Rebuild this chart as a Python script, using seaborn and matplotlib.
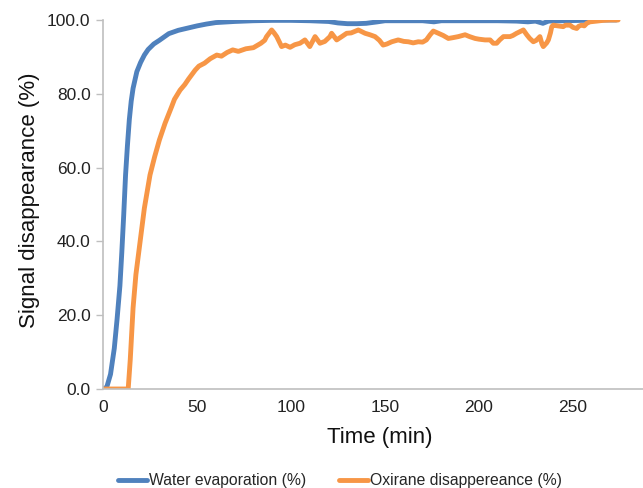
import matplotlib
matplotlib.use("Agg")
import matplotlib.pyplot as plt
import seaborn as sns
import pandas as pd

# ---- data ----
water_t = [0, 2, 4, 6, 7.5, 9, 10, 11, 12, 13, 14, 15, 16, 18, 20, 22, 24, 27, 30,
           35, 40, 45, 50, 55, 60, 70, 80, 90, 100, 110, 120, 125, 130, 135, 140,
           146, 150, 160, 170, 176, 180, 190, 200, 210, 220, 226, 230, 234, 237,
           245, 255, 265, 273]
water_y = [0, 0.5, 4, 11, 19, 28, 37, 47, 58, 66, 73, 78, 81.5, 86, 88.5, 90.5, 92,
           93.5, 94.5, 96.3, 97.2, 97.8, 98.4, 98.9, 99.3, 99.6, 99.8, 99.9, 99.9,
           99.8, 99.6, 99.2, 99.0, 99.0, 99.1, 99.5, 99.8, 99.8, 99.8, 99.5, 99.8,
           99.8, 99.8, 99.8, 99.7, 99.5, 99.7, 99.1, 99.7, 99.8, 99.9, 100, 100]

oxirane_t = [0, 13.4, 14.5, 16, 17.5, 19, 20, 22, 25, 27.5, 30, 33, 36.5, 38, 41,
             43.5, 45.5, 49, 51, 54, 57, 60.5, 63, 66, 69, 72, 76, 80, 84, 86, 87,
             89.7, 91, 92.4, 95, 97, 99.5, 102, 104.8, 107.4, 110, 112.8, 115.4,
             118, 120.7, 121.6, 124.3, 127, 129.6, 132, 135.8, 139.4, 142, 144.7,
             147, 149, 151, 153.6, 157, 160, 162.4, 165, 167.7, 170, 172, 174,
             175.7, 178.4, 181, 183.7, 186, 189, 192.6, 195, 197.9, 200, 203.2,
             205.9, 207.6, 209.4, 211, 213, 216.5, 218, 220, 223.6, 225.4, 227,
             228.9, 230.5, 232.4, 233.5, 234.2, 236, 236.9, 238, 238.7, 239.5, 242,
             244.8, 246, 248.4, 250, 252, 253, 254.6, 256, 257.3, 259, 262.6, 266,
             270, 274]
oxirane_y = [0, 0, 8, 22, 31, 37, 41, 49, 58, 63, 67.5, 72, 76.5, 78.5, 81, 82.5,
             84, 86.4, 87.5, 88.3, 89.5, 90.5, 90.2, 91.2, 91.9, 91.5, 92.2, 92.5,
             93.7, 94.5, 95.5, 97.3, 96.5, 95.5, 92.8, 93.2, 92.6, 93.3, 93.7, 94.6,
             92.8, 95.5, 93.7, 94.2, 95.5, 96.4, 94.6, 95.5, 96.4, 96.5, 97.3, 96.4,
             96.0, 95.5, 94.5, 93.2, 93.5, 94.1, 94.6, 94.2, 94.1, 93.8, 94.1, 94.0,
             94.6, 96, 97, 96.4, 95.8, 95, 95.2, 95.5, 96, 95.5, 95, 94.8, 94.6,
             94.6, 93.7, 93.7, 94.6, 95.5, 95.5, 95.8, 96.4, 97.3, 96, 95, 94.1,
             94.5, 95.5, 93.5, 92.8, 93.8, 94.6, 96.5, 98.2, 98.6, 98.4, 98.2, 98.6,
             98.6, 98, 97.7, 98.3, 98.6, 98.4, 99.1, 99.5, 99.7, 99.9, 100, 100]

series_names = ["Water evaporation (%)", "Oxirane disappereance (%)"]
colors = ["#4F81BD", "#F79646"]
x_ticks = [0, 50, 100, 150, 200, 250]
y_ticks = [0, 20, 40, 60, 80, 100]

df = pd.concat([
    pd.DataFrame({"t": water_t, "v": water_y, "s": series_names[0]}),
    pd.DataFrame({"t": oxirane_t, "v": oxirane_y, "s": series_names[1]}),
], ignore_index=True)

sns.set_style("white")
plt.rcParams["font.family"] = ["Liberation Sans", "DejaVu Sans"]

fig = plt.figure(figsize=(6.43, 4.88), dpi=100)
ax = fig.add_axes([103 / 643, 1 - 389 / 488, 540 / 643, 369 / 488])

sns.lineplot(data=df, x="t", y="v", hue="s", palette=colors, linewidth=3.5,
             sort=False, estimator=None, ax=ax, legend=False)

ax.set_xlim(0, 540 / 1.88)
ax.set_ylim(0, 100)
ax.set_xticks(x_ticks)
ax.set_yticks(y_ticks)
ax.set_yticklabels([f"{v:.1f}" for v in y_ticks])
ax.tick_params(axis="x", length=0, pad=8, labelsize=12.5, colors="#222222")
ax.tick_params(axis="y", length=5, width=1, pad=4, labelsize=12.5,
               colors="#BFBFBF", labelcolor="#222222", direction="out", left=True)

for side in ["top", "right"]:
    ax.spines[side].set_visible(False)
for side in ["left", "bottom"]:
    ax.spines[side].set_color("#BFBFBF")
    ax.spines[side].set_linewidth(1.2)

ax.set_xlabel("Time (min)", fontsize=16, color="#111111")
ax.set_ylabel("Signal disappearance (%)", fontsize=16, color="#111111")
ax.xaxis.set_label_coords((380 - 103) / 540, (389 - 438) / 369)
ax.xaxis.label.set_va("center")
ax.yaxis.set_label_coords((30 - 103) / 540, (389 - 200) / 369)
ax.yaxis.label.set_va("center")

from matplotlib.lines import Line2D
handles = [Line2D([0], [0], color=c, linewidth=3.5) for c in colors]
fig.legend(handles, series_names, loc="center", bbox_to_anchor=(340 / 643, 1 - 481 / 488),
           ncol=2, frameon=False, fontsize=11.3, handlelength=1.85,
           handletextpad=0.15, columnspacing=2.1)

fig.savefig("out.png", dpi=100)
